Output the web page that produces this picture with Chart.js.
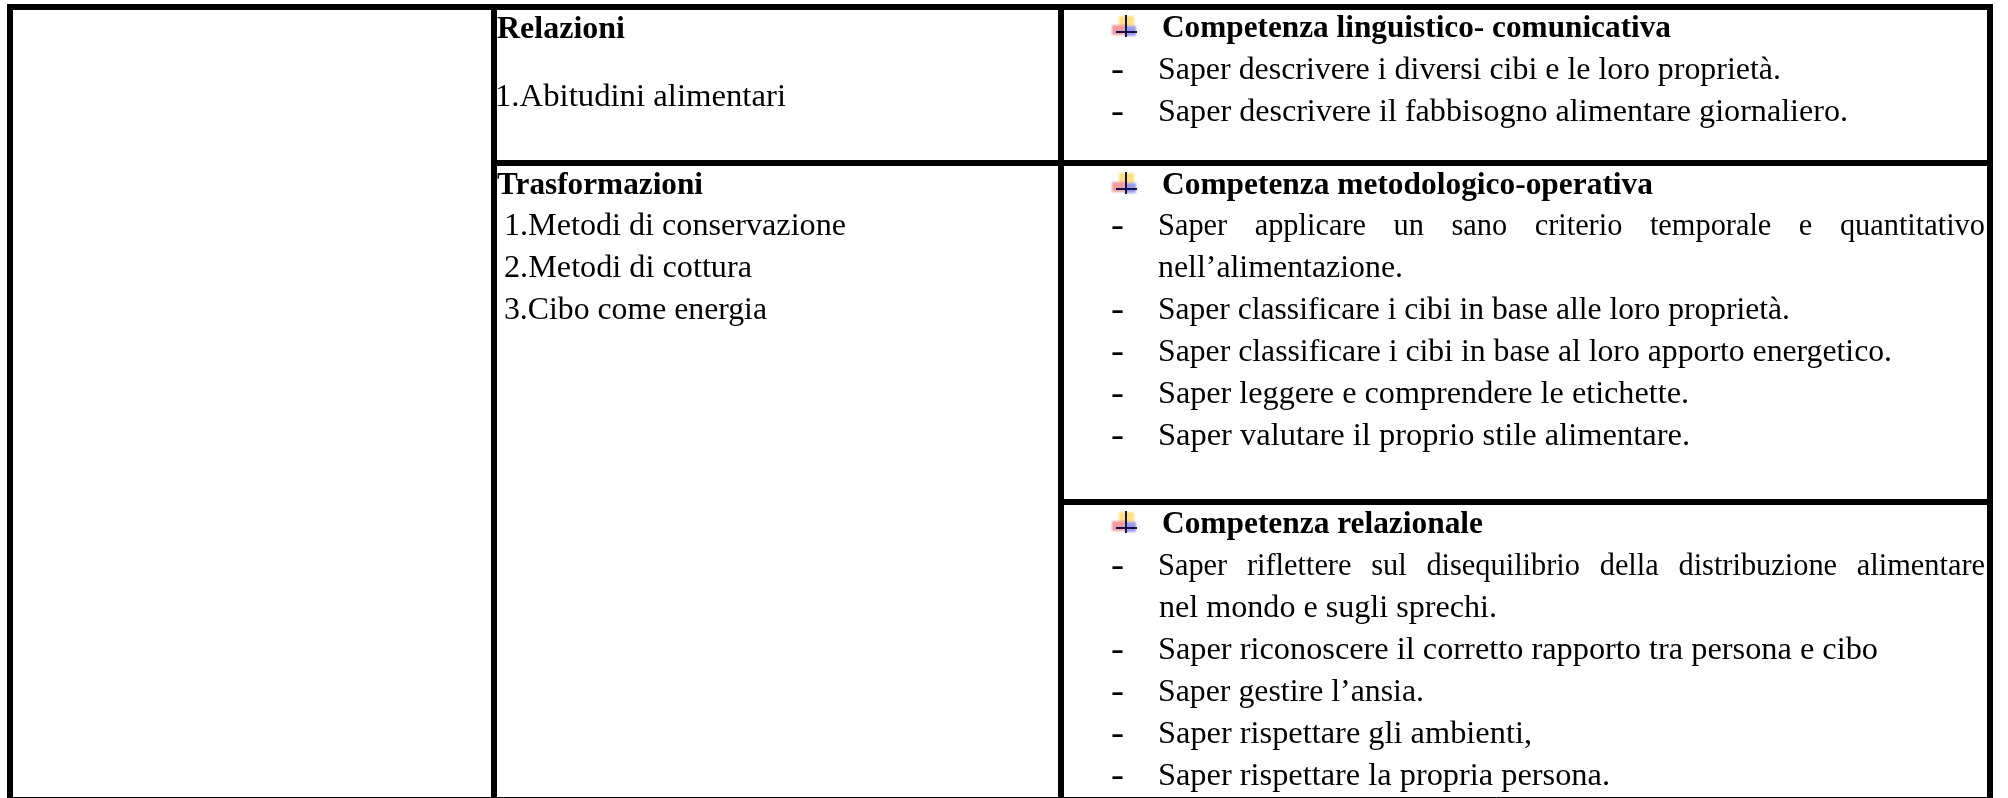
<!DOCTYPE html>
<html>
<head>
<meta charset="utf-8">
<style>
  html, body { margin: 0; padding: 0; background: #fff; }
  #wrap { width: 2008px; height: 798px; }
</style>
<script src="https://cdn.jsdelivr.net/npm/chart.js@4"></script>
</head>
<body>
<div id="wrap"><canvas id="tableChart"></canvas></div>
<script>
// the picture is a table, so the "data" are its rule lines and its lines of text
const colEdges = [10, 494, 1061, 1990];
const rowEdges = [7, 163, 502];
const bottomEdge = 797.5;

const leftCol = [
  'Relazioni', '1.Abitudini alimentari', 'Trasformazioni',
  '1.Metodi di conservazione', '2.Metodi di cottura', '3.Cibo come energia'
];
const leftBold = [true, false, true, false, false, false];
const leftX = [497, 495, 497, 504, 504, 504];
const leftEnd = [625, 786, 703, 846, 752, 767];
const leftY = [38, 106, 194, 235, 277, 319];

const rightCol = [
  'Competenza linguistico- comunicativa',
  'Saper descrivere i diversi cibi e le loro proprietà.',
  'Saper descrivere il fabbisogno alimentare giornaliero.',
  'Competenza metodologico-operativa',
  'Saper applicare un sano criterio temporale e quantitativo',
  'nell’alimentazione.',
  'Saper classificare i cibi in base alle loro proprietà.',
  'Saper classificare i cibi in base al loro apporto energetico.',
  'Saper leggere e comprendere le etichette.',
  'Saper valutare il proprio stile alimentare.',
  'Competenza relazionale',
  'Saper riflettere sul disequilibrio della distribuzione alimentare',
  'nel mondo e sugli sprechi.',
  'Saper riconoscere il corretto rapporto tra persona e cibo',
  'Saper gestire l’ansia.',
  'Saper rispettare gli ambienti,',
  'Saper rispettare la propria persona.'
];
const rightBold = [true,false,false,true,false,false,false,false,false,false,true,false,false,false,false,false,false];
const rightDash = [false,true,true,false,true,false,true,true,true,true,false,true,false,true,true,true,true];
// these two lines are justified in the original, the gaps grow and not the letters
const rightJustified = [false,false,false,false,true,false,false,false,false,false,false,true,false,false,false,false,false];
const rightX = [1162,1158,1158,1162,1158,1158,1158,1158,1158,1158,1162,1158,1159,1158,1158,1158,1158];
const rightEnd = [1671,1781,1848,1653,1985,1403,1790,1892,1689,1690,1483,1985,1497,1878,1424,1532,1610];
const rightY = [37,79,121,194,235,277,319,361,403,445,533,575,617,659,701,743,785];

// each rule as [x1, y1, x2, y2]
const rules = [
  [colEdges[0], rowEdges[0], colEdges[3], rowEdges[0]],
  [colEdges[1], rowEdges[1], colEdges[3], rowEdges[1]],
  [colEdges[2], rowEdges[2], colEdges[3], rowEdges[2]],
  [colEdges[0], rowEdges[0], colEdges[0], bottomEdge],
  [colEdges[1], rowEdges[0], colEdges[1], bottomEdge],
  [colEdges[2], rowEdges[0], colEdges[2], bottomEdge],
  [colEdges[3], rowEdges[0], colEdges[3], bottomEdge]
];

const ruleSets = rules.map(r => ({
  data: [{ x: r[0], y: r[1] }, { x: r[2], y: r[3] }],
  borderColor: '#000',
  borderWidth: 6,
  borderCapStyle: 'square',
  pointRadius: 0,
  showLine: true
}));
ruleSets.push({
  data: [{ x: colEdges[0] - 3, y: bottomEdge }, { x: colEdges[3] + 3, y: bottomEdge }],
  borderColor: '#000',
  borderWidth: 1,
  pointRadius: 0,
  showLine: true
});

const FONT = '"Liberation Serif", serif';
const JUSTIFY_SCALE = 0.98;

function drawLine(ctx, scales, str, x, end, y, bold, justified) {
  const px = scales.x.getPixelForValue(x);
  const pxEnd = scales.x.getPixelForValue(end);
  const py = scales.y.getPixelForValue(y);
  ctx.font = (bold ? 'bold ' : '') + '31px ' + FONT;
  ctx.wordSpacing = '0px';
  const w = ctx.measureText(str).width;
  let sx = (pxEnd - px) / w;
  ctx.save();
  if (justified) {
    sx = JUSTIFY_SCALE;
    const gaps = str.split(' ').length - 1;
    ctx.wordSpacing = ((pxEnd - px) / sx - w) / gaps + 'px';
  }
  ctx.translate(px, py);
  ctx.scale(sx, 1);
  ctx.fillText(str, 0, 0);
  ctx.restore();
}

// small bullet icon in front of the bold headings
function drawBullet(ctx, scales, y) {
  const cx = scales.x.getPixelForValue(1126);
  const cy = scales.y.getPixelForValue(y - 5);
  ctx.save();
  ctx.filter = 'blur(0.8px)';
  ctx.fillStyle = '#ffe080'; ctx.fillRect(cx - 7, cy - 16, 15, 11);
  ctx.fillStyle = '#f29aa0'; ctx.fillRect(cx - 14, cy - 7, 13, 10);
  ctx.fillStyle = '#9a9aea'; ctx.fillRect(cx - 1, cy - 6, 11, 10);
  ctx.filter = 'none';
  ctx.fillStyle = '#14144a';
  ctx.fillRect(cx - 1, cy - 17, 2, 22);
  ctx.fillRect(cx - 10, cy - 1, 21, 2);
  ctx.restore();
}

const tableText = {
  id: 'tableText',
  afterDatasetsDraw(chart) {
    const ctx = chart.ctx, scales = chart.scales;
    ctx.save();
    ctx.fillStyle = '#000';
    ctx.textBaseline = 'alphabetic';
    leftCol.forEach((s, i) => drawLine(ctx, scales, s, leftX[i], leftEnd[i], leftY[i], leftBold[i], false));
    rightCol.forEach((s, i) => {
      drawLine(ctx, scales, s, rightX[i], rightEnd[i], rightY[i], rightBold[i], rightJustified[i]);
      if (rightDash[i]) drawLine(ctx, scales, '-', 1111, 1124, rightY[i], true, false);
      if (rightBold[i]) drawBullet(ctx, scales, rightY[i]);
    });
    ctx.restore();
  }
};

new Chart(document.getElementById('tableChart'), {
  type: 'scatter',
  data: { datasets: ruleSets },
  options: {
    responsive: true,
    maintainAspectRatio: false,
    animation: false,
    layout: { padding: 0 },
    plugins: { legend: { display: false }, tooltip: { enabled: false } },
    scales: {
      x: { type: 'linear', min: 0, max: 2008, display: false },
      y: { type: 'linear', min: 0, max: 798, reverse: true, display: false }
    }
  },
  plugins: [tableText]
});
</script>
</body>
</html>
